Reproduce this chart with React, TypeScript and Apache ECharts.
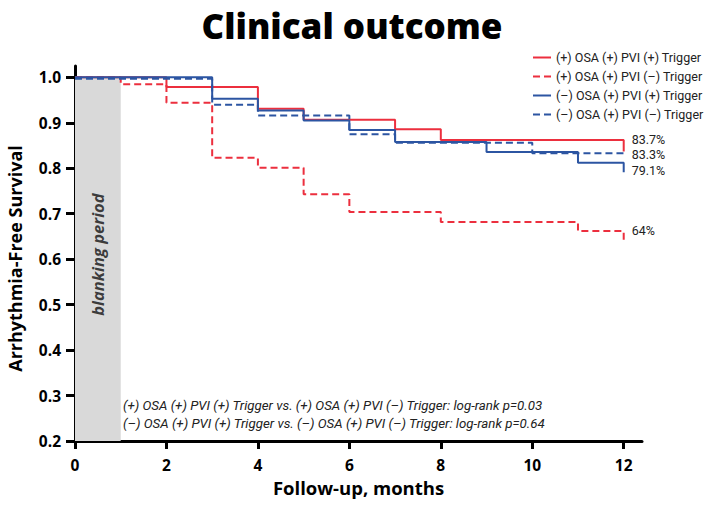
import React, { useEffect, useRef } from "react";
import * as echarts from "echarts";

const seriesNames = [
  "(+) OSA (+) PVI (+) Trigger",
  "(+) OSA (+) PVI (–) Trigger",
  "(–) OSA (+) PVI (+) Trigger",
  "(–) OSA (+) PVI (–) Trigger",
];
const redSolidX = [0, 2, 4, 5, 7, 8, 12];
const redSolidY = [1.0, 0.979, 0.931, 0.907, 0.886, 0.862, 0.837];
const redDashedX = [0, 1, 2, 3, 4, 5, 6, 8, 11, 12];
const redDashedY = [1.0, 0.985, 0.944, 0.823, 0.801, 0.743, 0.704, 0.682, 0.662, 0.64];
const blueSolidX = [0, 3, 4, 5, 6, 7, 9, 11, 12];
const blueSolidY = [1.0, 0.953, 0.927, 0.905, 0.884, 0.858, 0.836, 0.812, 0.791];
const blueDashedX = [0, 3, 4, 6, 7, 10, 12];
const blueDashedY = [0.997, 0.94, 0.916, 0.875, 0.856, 0.833, 0.833];
const endLabels = ["83.7%", "64%", "79.1%", "83.3%"];
const endLabelOffsets = [-12, -11, -2, 1];
const xTicks = [0, 2, 4, 6, 8, 10, 12];
const yTicks = [0.2, 0.3, 0.4, 0.5, 0.6, 0.7, 0.8, 0.9, 1.0];
const blankingRange = [0, 1];
const blankingLabelPos = [0.5, 0.61];
const annotations = [
  "(+) OSA (+) PVI (+) Trigger vs. (+) OSA (+) PVI (–) Trigger: log-rank p=0.03",
  "(–) OSA (+) PVI (+) Trigger vs. (–) OSA (+) PVI (–) Trigger: log-rank p=0.64",
];

const RED = "#ec2f3e";
const BLUE = "#2c55a2";
const FONT = "'Open Sans', sans-serif";
const SMALL = "Roboto, sans-serif";

export default function App() {
  const ref = useRef<HTMLDivElement>(null);
  useEffect(() => {
    const chart = echarts.init(ref.current!, undefined, { renderer: "svg" });
    const mk = (name: string, xs: number[], ys: number[], idx: number, color: string, dashed: boolean) => ({
      name,
      type: "line",
      step: "end",
      symbol: "none",
      z: 5,
      lineStyle: { color, width: 2, type: dashed ? [7, 4] : "solid" },
      itemStyle: { color },
      endLabel: {
        show: true,
        formatter: endLabels[idx],
        distance: 8,
        offset: [0, endLabelOffsets[idx]],
        color: "#222",
        fontSize: 12.5,
        lineHeight: 13,
        fontFamily: SMALL,
      },
      data: xs.map((x, i) => [x, ys[i]]),
    });
    chart.setOption({
      animation: false,
      title: {
        text: "Clinical outcome",
        left: "center",
        top: 3,
        textStyle: { fontFamily: FONT, fontWeight: 800, fontSize: 35, color: "#000" },
      },
      legend: {
        orient: "vertical",
        left: 527,
        top: 46,
        itemWidth: 18,
        itemHeight: 12,
        itemGap: 6,
        itemStyle: { opacity: 0, color: "rgba(0,0,0,0)", borderWidth: 0 },
        data: seriesNames,
        textStyle: { fontFamily: SMALL, fontSize: 12.5, color: "#222", lineHeight: 12 },
      },
      grid: { left: 75, right: 62, top: 66, bottom: 64, containLabel: false, outerBoundsMode: "none" },
      xAxis: {
        type: "value",
        min: 0,
        max: 12.4,
        name: "Follow-up, months",
        nameLocation: "middle",
        nameGap: 36,
        nameTextStyle: { fontFamily: FONT, fontWeight: "bold", fontSize: 18.5, color: "#000" },
        splitLine: { show: false },
        axisLine: { lineStyle: { color: "#000", width: 3 } },
        axisTick: { customValues: xTicks, length: 8, lineStyle: { color: "#000", width: 3 } },
        axisLabel: { customValues: xTicks, margin: 16, fontFamily: FONT, fontWeight: "bold", fontSize: 15.5, color: "#000" },
      },
      yAxis: {
        type: "value",
        min: 0.2,
        max: 1.025,
        name: "Arrhythmia-Free Survival",
        nameLocation: "middle",
        nameGap: 51,
        nameTextStyle: {
          fontFamily: FONT,
          fontWeight: "bold",
          fontSize: 18,
          color: "#000",
          padding: [0, 10, 0, 0],
        },
        splitLine: { show: false },
        axisLine: { show: true, lineStyle: { color: "#000", width: 3 } },
        axisTick: { show: true, customValues: yTicks, length: 9, lineStyle: { color: "#000", width: 3 } },
        axisLabel: {
          customValues: yTicks,
          margin: 14,
          fontFamily: FONT,
          fontWeight: "bold",
          fontSize: 15.5,
          color: "#000",
          formatter: (v: number) => v.toFixed(1),
        },
      },
      graphic: annotations.map((t, i) => ({
        type: "text",
        left: 123,
        top: 399 + i * 18,
        z: 10,
        style: { text: t, font: `italic 13.3px ${SMALL}`, fill: "#222" },
      })),
      series: [
        {
          type: "scatter",
          symbolSize: 0,
          silent: true,
          z: 3,
          data: [blankingLabelPos],
          label: {
            show: true,
            position: "inside",
            rotate: 90,
            formatter: "blanking period",
            fontFamily: FONT,
            fontStyle: "italic",
            fontWeight: "bold",
            fontSize: 16.5,
            color: "#111",
          },
          markArea: {
            silent: true,
            itemStyle: { color: "#d9d9d9" },
            data: [[{ xAxis: blankingRange[0], yAxis: 0.2 }, { xAxis: blankingRange[1], yAxis: 1.0 }]],
          },
        },
        mk(seriesNames[0], redSolidX, redSolidY, 0, RED, false),
        mk(seriesNames[1], redDashedX, redDashedY, 1, RED, true),
        mk(seriesNames[2], blueSolidX, blueSolidY, 2, BLUE, false),
        mk(seriesNames[3], blueDashedX, blueDashedY, 3, BLUE, true),
      ],
    });
    return () => chart.dispose();
  }, []);
  return (
    <div
      ref={ref}
      style={{ position: "fixed", left: 0, top: 0, width: 704, height: 505, background: "#fff" }}
    />
  );
}
